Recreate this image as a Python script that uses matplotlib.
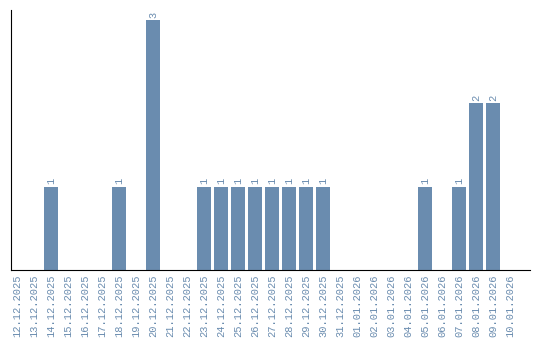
import numpy as np
import matplotlib.pyplot as plt

dates = ['12.12.2025', '13.12.2025', '14.12.2025', '15.12.2025', '16.12.2025',
         '17.12.2025', '18.12.2025', '19.12.2025', '20.12.2025', '21.12.2025',
         '22.12.2025', '23.12.2025', '24.12.2025', '25.12.2025', '26.12.2025',
         '27.12.2025', '28.12.2025', '29.12.2025', '30.12.2025', '31.12.2025',
         '01.01.2026', '02.01.2026', '03.01.2026', '04.01.2026', '05.01.2026',
         '06.01.2026', '07.01.2026', '08.01.2026', '09.01.2026', '10.01.2026']
counts = [0, 0, 1, 0, 0, 0, 1, 0, 3, 0,
          0, 1, 1, 1, 1, 1, 1, 1, 1, 0,
          0, 0, 0, 0, 1, 0, 1, 2, 2, 0]

color = '#6a8caf'
fnt = 'Liberation Mono'

fig = plt.figure(figsize=(5.4, 3.4), dpi=100)
ax = fig.add_axes([11/540, 70/340, 519/540, 260/340])

x = np.arange(len(dates))
bars = ax.bar(x, counts, width=0.82, color=color)

for xi, c in zip(x, counts):
    if c > 0:
        ax.text(xi, c + 0.03, str(c), rotation=90, ha='center', va='bottom',
                color=color, fontsize=7.5, family=fnt)

ax.set_xlim(-0.35, 30.18)
ax.set_ylim(0, 3.12)
ax.set_xticks(x)
ax.set_xticklabels(dates, rotation=90, color=color, fontsize=7.5, family=fnt)
ax.tick_params(axis='x', length=0, pad=3)
ax.set_yticks([])
ax.spines['top'].set_visible(False)
ax.spines['right'].set_visible(False)

fig.savefig('out.png', dpi=100)
